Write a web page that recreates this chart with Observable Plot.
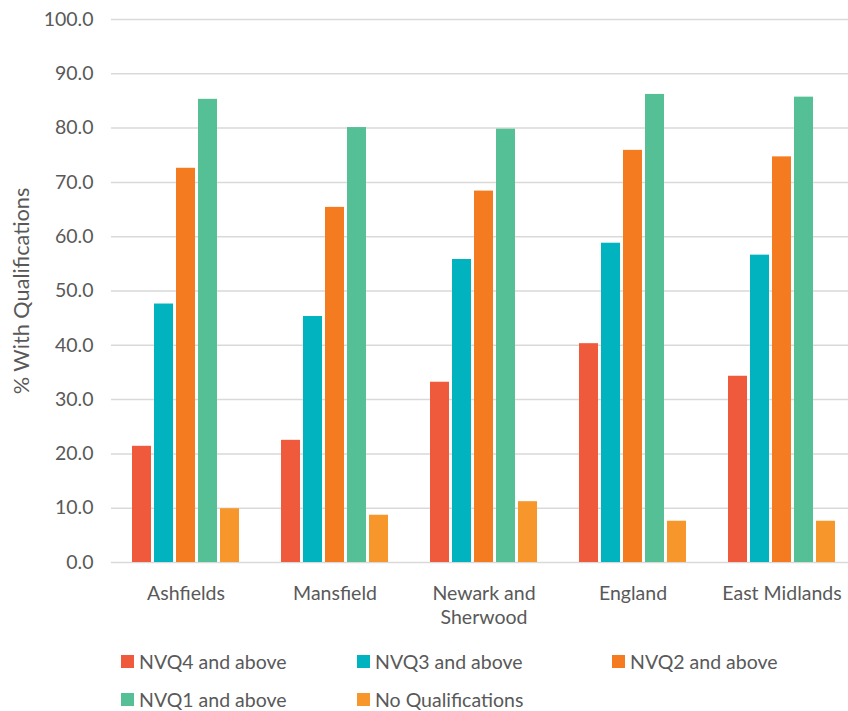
<!DOCTYPE html>
<html>
<head>
<meta charset="utf-8">
<script src="https://cdn.jsdelivr.net/npm/d3@7"></script>
<script src="https://cdn.jsdelivr.net/npm/@observablehq/plot@0.6"></script>
<style>
  body { margin: 0; background: #fff; font-family: Lato, "Open Sans", sans-serif; }
  #chart svg { display: block; }
  #legend { display: grid; grid-template-columns: 236px 255px auto; margin-left: 121px; margin-top: 10px; row-gap: 16px; color: #595959; font-size: 19.5px; }
  #legend .item { display: flex; align-items: center; height: 22px; }
  #legend .sw { width: 13px; height: 13px; margin-right: 5px; }
</style>
</head>
<body>
<div id="chart"></div>
<div id="legend"></div>
<script>
const categories = ["Ashfields", "Mansfield", "Newark and Sherwood", "England", "East Midlands"];
const series = ["NVQ4 and above", "NVQ3 and above", "NVQ2 and above", "NVQ1 and above", "No Qualifications"];
const colors = ["#F05A3C", "#00B3BE", "#F47B20", "#55BF96", "#F7962A"];
const nvq4 = [21.4, 22.5, 33.2, 40.3, 34.3];
const nvq3 = [47.6, 45.3, 55.8, 58.8, 56.6];
const nvq2 = [72.6, 65.4, 68.4, 75.9, 74.7];
const nvq1 = [85.3, 80.1, 79.8, 86.2, 85.7];
const noQual = [9.9, 8.7, 11.2, 7.6, 7.6];
const yTicks = [0, 10, 20, 30, 40, 50, 60, 70, 80, 90, 100];
const yTitle = "% With Qualifications";

const valuesBySeries = [nvq4, nvq3, nvq2, nvq1, noQual];
const data = [];
categories.forEach((c, i) => {
  series.forEach((s, j) => data.push({cat: c, series: s, value: valuesBySeries[j][i]}));
});

const chart = Plot.plot({
  width: 848,
  height: 640,
  marginLeft: 110,
  marginRight: -8,
  marginTop: 19,
  marginBottom: 78,
  style: {fontFamily: "Lato, 'Open Sans', sans-serif", fontSize: "19.5px", color: "#595959", background: "#fff"},
  fx: {domain: categories, padding: 0, label: null},
  x: {domain: series, paddingInner: 0.13, paddingOuter: 0.815, axis: null},
  y: {domain: [0, 100], label: null},
  color: {domain: series, range: colors},
  marks: [
    Plot.ruleY(yTicks, {stroke: "#d9d9d9", strokeWidth: 1.5}),
    Plot.barY(data, {fx: "cat", x: "series", y: "value", fill: "series"}),
    Plot.axisY(yTicks, {tickSize: 0, tickPadding: 18, tickFormat: d => d.toFixed(1), fontSize: 19.5, fill: "#595959",
      label: null}),
    Plot.axisY({ticks: [], tickSize: 0, fontSize: 21.7, fill: "#595959",
      label: yTitle, labelAnchor: "center", labelArrow: "none", labelOffset: 98}),
    Plot.axisFx({anchor: "bottom", tickSize: 0, tickPadding: 20, fontSize: 19.5, lineHeight: 1.23, fill: "#595959", label: null,
      tickFormat: d => d === "Newark and Sherwood" ? "Newark and\nSherwood" : d})
  ]
});
document.getElementById("chart").appendChild(chart);

const legend = document.getElementById("legend");
series.forEach((s, i) => {
  const item = document.createElement("div");
  item.className = "item";
  item.innerHTML = `<span class="sw" style="background:${colors[i]}"></span><span>${s}</span>`;
  legend.appendChild(item);
});
</script>
</body>
</html>
